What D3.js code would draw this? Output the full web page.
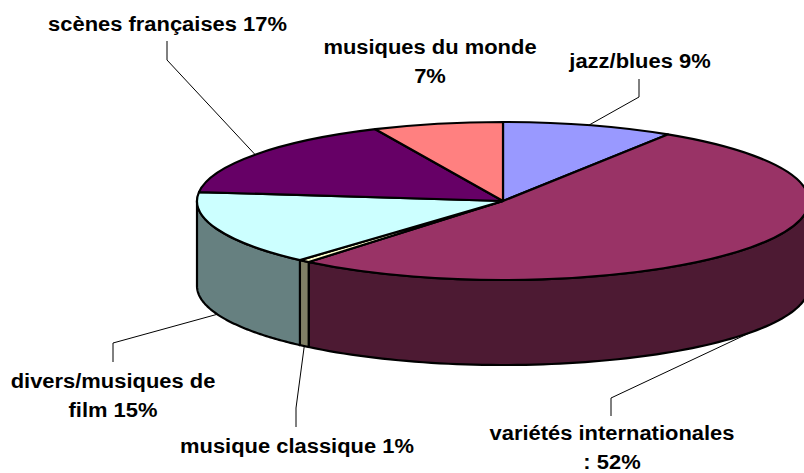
<!DOCTYPE html>
<html><head><meta charset="utf-8">
<script src="https://cdn.jsdelivr.net/npm/d3@7/dist/d3.min.js"></script>
<style>html,body{margin:0;padding:0;background:#fff}svg{display:block}
text{font-family:"Liberation Sans",Arial,sans-serif;font-weight:bold;font-size:20.5px;fill:#000;text-anchor:middle}</style>
</head><body><svg id="c" width="804" height="473"></svg>
<script>
const categories = ["jazz/blues","variétés internationales","musique classique","divers/musiques de film","scènes françaises","musiques du monde"];
const values = [9.05,51.9,0.6,15.25,16.35,6.85];
const topColors = ["#9999FF","#993366","#FFFFCC","#CCFFFF","#660066","#FF8080"];
const sideColors = ["#4D4D80","#4D1A33","#808066","#668080","#330033","#804040"];
const labelLines = [["jazz/blues 9%"],["variétés internationales",": 52%"],["musique classique 1%"],["divers/musiques de","film 15%"],["scènes françaises 17%"],["musiques du monde","7%"]];
const labelPos = [[640,68],[612,440],[297,453],[113,388],[167.5,31],[430,54]];
const leaderElbow = [[639,97],[611,398],[296,408],[113,343],[167,60],null];
const leaderEnd = [[639,79],[611,416],[296,427],[113,362],[167,41],null];

const W=804,H=473,cx=503,cy=201,rx=306,ry=79,depth=85,lineH=29,textStretch=1.07;
const svg=d3.select("#c");
const pie=d3.pie().sort(null).value(d=>d);
const arcs=pie(values);
const sx=d3.scaleLinear().domain([-1,1]).range([cx-rx,cx+rx]);
const sy=d3.scaleLinear().domain([-1,1]).range([cy-ry,cy+ry]);
const px=a=>sx(Math.sin(a)), py=a=>sy(-Math.cos(a));

// Walls (front half only: pi/2 .. 3pi/2)
const wall=d3.area().x(a=>px(a)).y0(a=>py(a)).y1(a=>py(a)+depth);
const gw=svg.append("g");
arcs.forEach((d,i)=>{
  const a0=Math.max(d.startAngle,Math.PI/2),a1=Math.min(d.endAngle,Math.PI*1.5);
  if(a1<=a0) return;
  gw.append("path").attr("d",wall(d3.range(0,81).map(k=>a0+(a1-a0)*k/80)))
    .attr("fill",sideColors[i]).attr("stroke","#000").attr("stroke-width",2.2).attr("stroke-linejoin","round");
});

// Top face
const arcGen=d3.arc().innerRadius(0).outerRadius(rx);
svg.append("g").attr("transform",`translate(${cx},${cy}) scale(1,${ry/rx})`)
  .selectAll("path").data(arcs).join("path")
  .attr("d",arcGen).attr("fill",(d,i)=>topColors[i])
  .attr("stroke","#000").attr("stroke-width",2.2).attr("stroke-linejoin","round")
  .attr("vector-effect","non-scaling-stroke");

// Leaders
arcs.forEach((d,i)=>{
  if(!leaderElbow[i]) return;
  const m=(d.startAngle+d.endAngle)/2;
  const y0=py(m)+(Math.cos(m)<0?depth:0);
  svg.insert("path","g").attr("fill","none").attr("stroke","#000").attr("stroke-width",1)
    .attr("d",d3.line()([[px(m),y0],leaderElbow[i],leaderEnd[i]]));
});

// Labels
labelLines.forEach((ls,i)=>{
  const t=svg.append("text").attr("transform",`translate(${labelPos[i][0]},${labelPos[i][1]}) scale(${textStretch},1)`);
  ls.forEach((s,k)=>t.append("tspan").attr("x",0).attr("dy",k?lineH:0).text(s));
});
</script></body></html>
